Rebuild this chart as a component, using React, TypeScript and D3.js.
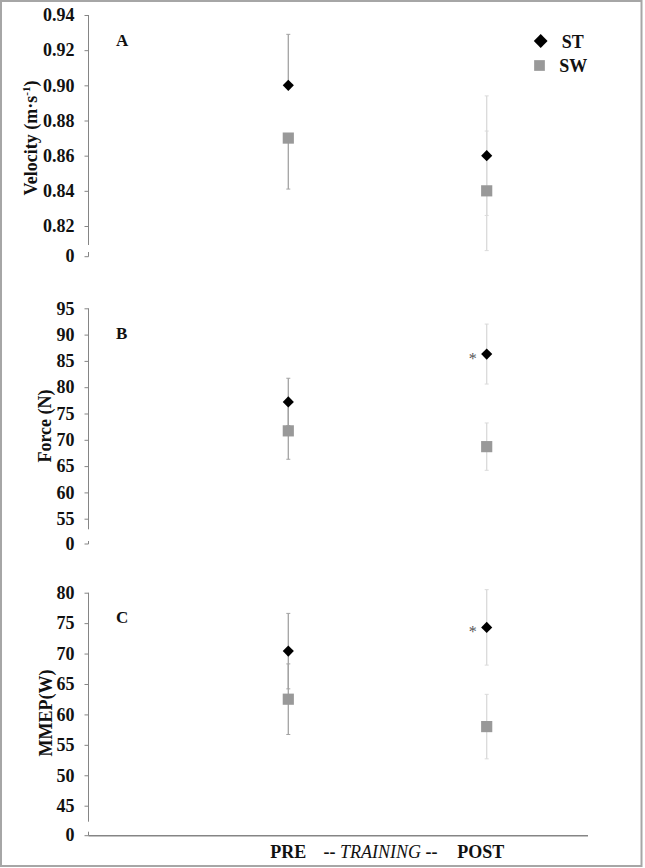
import { useEffect, useRef } from 'react';
import * as d3 from 'd3';

const categories = ['PRE', 'POST'];
const seriesNames = ['ST', 'SW'];

// Panel A - velocity (m·s-1)
const velocityTicks = [0.82, 0.84, 0.86, 0.88, 0.9, 0.92, 0.94];
const velocityST = [0.9, 0.86];
const velocitySW = [0.87, 0.84];
const velocitySTErrUp = [0.029, 0.034];
const velocitySTErrDown = [0, 0.034];
const velocitySWErrUp = [0, 0.034];
const velocitySWErrDown = [0.029, 0.034];

// Panel B - force (N)
const forceTicks = [55, 60, 65, 70, 75, 80, 85, 90, 95];
const forceST = [77.2, 86.3];
const forceSW = [71.7, 68.7];
const forceSTErr = [4.5, 5.7];
const forceSWErr = [5.4, 4.5];
const forceSignificant = [false, true];

// Panel C - MMEP (W)
const mmepTicks = [45, 50, 55, 60, 65, 70, 75, 80];
const mmepST = [70.4, 74.3];
const mmepSW = [62.5, 58.0];
const mmepSTErr = [6.2, 6.2];
const mmepSWErr = [5.8, 5.3];
const mmepSignificant = [false, true];

const FONT = '"Liberation Serif", "Times New Roman", Times, serif';

function App() {
  const svgRef = useRef<SVGSVGElement | null>(null);

  useEffect(() => {
    const svg = d3.select(svgRef.current);
    svg.selectAll('*').remove();

    const width = 645;
    const height = 868;
    const axisX = 88.5;
    const axisColor = '#858585';
    const errColors = ['#a3a3a3', '#dadada'];

    svg.attr('width', width).attr('height', height);

    // outer frame
    svg.append('rect')
      .attr('x', 1).attr('y', 1)
      .attr('width', 640.5).attr('height', 865)
      .attr('fill', 'white')
      .attr('stroke', '#a6a6a6')
      .attr('stroke-width', 2);

    const x = d3.scalePoint<string>()
      .domain(categories)
      .range([288.3, 486.7]);

    const panels = [
      {
        letter: 'A', title: 'Velocity (m·s', sup: '-1', titleEnd: ')',
        ticks: velocityTicks, fmt: d3.format('.2f'),
        top: 15, bottom: 226, lineEnd: 245, segStart: 252, zeroY: 256.7,
        titleX: 37, titleY: 138,
        st: velocityST, sw: velocitySW,
        stUp: velocitySTErrUp, stDown: velocitySTErrDown,
        swUp: velocitySWErrUp, swDown: velocitySWErrDown,
        sig: [false, false], baseline: false,
      },
      {
        letter: 'B', title: 'Force (N)', sup: '', titleEnd: '',
        ticks: forceTicks, fmt: d3.format('d'),
        top: 308.3, bottom: 518.7, lineEnd: 529.3, segStart: 541, zeroY: 544,
        titleX: 50.5, titleY: 426,
        st: forceST, sw: forceSW,
        stUp: forceSTErr, stDown: forceSTErr,
        swUp: forceSWErr, swDown: forceSWErr,
        sig: forceSignificant, baseline: false,
      },
      {
        letter: 'C', title: 'MMEP(W)', sup: '', titleEnd: '',
        ticks: mmepTicks, fmt: d3.format('d'),
        top: 592.7, bottom: 805.7, lineEnd: 821.7, segStart: 831.7, zeroY: 835.7,
        titleX: 52, titleY: 713,
        st: mmepST, sw: mmepSW,
        stUp: mmepSTErr, stDown: mmepSTErr,
        swUp: mmepSWErr, swDown: mmepSWErr,
        sig: mmepSignificant, baseline: true,
      },
    ];

    const diamond = d3.symbol().type(d3.symbolSquare).size(62);
    const square = d3.symbol().type(d3.symbolSquare).size(125);

    panels.forEach(p => {
      const y = d3.scaleLinear()
        .domain([p.ticks[0], p.ticks[p.ticks.length - 1]])
        .range([p.bottom, p.top]);

      const g = svg.append('g')
        .attr('transform', `translate(${axisX},0)`)
        .call(d3.axisLeft(y).tickValues(p.ticks).tickFormat(d => p.fmt(d as number)).tickSize(4).tickPadding(10));
      g.select('.domain').remove();
      g.selectAll('.tick line').attr('stroke', axisColor);
      g.selectAll('.tick text')
        .attr('fill', '#111')
        .attr('font-family', FONT)
        .attr('font-weight', 'bold')
        .attr('font-size', 18);

      // broken axis line
      svg.append('line')
        .attr('x1', axisX).attr('x2', axisX)
        .attr('y1', y(p.ticks[p.ticks.length - 1])).attr('y2', p.lineEnd)
        .attr('stroke', axisColor);
      svg.append('line')
        .attr('x1', axisX).attr('x2', axisX)
        .attr('y1', p.segStart).attr('y2', p.zeroY)
        .attr('stroke', axisColor);
      svg.append('line')
        .attr('x1', axisX - 4).attr('x2', axisX)
        .attr('y1', p.zeroY).attr('y2', p.zeroY)
        .attr('stroke', axisColor);
      svg.append('text')
        .attr('x', axisX - 14).attr('y', p.zeroY)
        .attr('dy', '0.32em')
        .attr('text-anchor', 'end')
        .attr('font-family', FONT).attr('font-weight', 'bold').attr('font-size', 18)
        .attr('fill', '#111')
        .text('0');

      if (p.baseline) {
        svg.append('line')
          .attr('x1', axisX).attr('x2', 588)
          .attr('y1', p.zeroY).attr('y2', p.zeroY)
          .attr('stroke', axisColor)
          .attr('stroke-width', 1.5);
      }

      // axis title
      const t = svg.append('text')
        .attr('transform', `translate(${p.titleX},${p.titleY}) rotate(-90)`)
        .attr('text-anchor', 'middle')
        .attr('font-family', FONT).attr('font-weight', 'bold').attr('font-size', 18)
        .attr('fill', '#111');
      t.append('tspan').text(p.title);
      if (p.sup) {
        t.append('tspan').attr('dy', -7).attr('font-size', 11).text(p.sup);
        t.append('tspan').attr('dy', 7).text(p.titleEnd);
      }

      // panel letter
      svg.append('text')
        .attr('x', 116).attr('y', p.top + 30.5)
        .attr('font-family', FONT).attr('font-weight', 'bold').attr('font-size', 17)
        .attr('fill', '#111')
        .text(p.letter);

      // error bars
      const bars = [
        { vals: p.st, up: p.stUp, down: p.stDown },
        { vals: p.sw, up: p.swUp, down: p.swDown },
      ];
      bars.forEach(b => {
        categories.forEach((c, i) => {
          const cx = x(c) as number;
          const col = errColors[i];
          const y1 = y(b.vals[i] + b.up[i]);
          const y2 = y(b.vals[i] - b.down[i]);
          svg.append('line')
            .attr('x1', cx).attr('x2', cx).attr('y1', y1).attr('y2', y2)
            .attr('stroke', col).attr('stroke-width', 1.3);
          [y1, y2].forEach((yy, k) => {
            if ((k === 0 ? b.up[i] : b.down[i]) > 0) {
              svg.append('line')
                .attr('x1', cx - 2).attr('x2', cx + 2).attr('y1', yy).attr('y2', yy)
                .attr('stroke', col).attr('stroke-width', 1);
            }
          });
        });
      });

      // markers
      categories.forEach((c, i) => {
        const cx = x(c) as number;
        svg.append('path')
          .attr('d', square()!)
          .attr('transform', `translate(${cx},${y(p.sw[i])})`)
          .attr('fill', '#999999');
        svg.append('path')
          .attr('d', diamond()!)
          .attr('transform', `translate(${cx},${y(p.st[i])}) rotate(45)`)
          .attr('fill', '#000');
        if (p.sig[i]) {
          svg.append('text')
            .attr('x', cx - 14).attr('y', y(p.st[i]) + 10)
            .attr('text-anchor', 'middle')
            .attr('font-family', FONT).attr('font-size', 16)
            .attr('fill', '#555')
            .text('*');
        }
      });
    });

    // legend
    const legend = svg.append('g');
    seriesNames.forEach((name, i) => {
      const ly = 41 + i * 24.5;
      legend.append('path')
        .attr('d', i === 0
          ? d3.symbol().type(d3.symbolSquare).size(95)()!
          : d3.symbol().type(d3.symbolSquare).size(115)()!)
        .attr('transform', i === 0 ? `translate(540.7,${ly}) rotate(45)` : `translate(539.5,${ly})`)
        .attr('fill', i === 0 ? '#000' : '#999999');
      legend.append('text')
        .attr('x', i === 0 ? 561.7 : 559.3).attr('y', ly + 6.5)
        .attr('font-family', FONT).attr('font-weight', 'bold').attr('font-size', 18)
        .attr('fill', '#111')
        .text(name);
    });

    // x-axis label
    const labelY = 858;
    const mid = ((x('PRE') as number) + (x('POST') as number)) / 2;
    svg.append('text')
      .attr('x', x('PRE') as number).attr('y', labelY)
      .attr('text-anchor', 'middle')
      .attr('font-family', FONT).attr('font-weight', 'bold').attr('font-size', 18)
      .attr('fill', '#111')
      .text('PRE');
    const m = svg.append('text')
      .attr('x', mid - 7).attr('y', labelY)
      .attr('text-anchor', 'middle')
      .attr('font-family', FONT).attr('font-size', 18)
      .attr('fill', '#111')
      .style('white-space', 'pre');
    m.append('tspan').attr('font-family', FONT).attr('font-weight', 'bold').text('-- ');
    m.append('tspan').attr('font-family', FONT).attr('font-style', 'italic').text('TRAINING');
    m.append('tspan').attr('font-family', FONT).attr('font-weight', 'bold').text(' --');
    svg.append('text')
      .attr('x', (x('POST') as number) - 6).attr('y', labelY)
      .attr('text-anchor', 'middle')
      .attr('font-family', FONT).attr('font-weight', 'bold').attr('font-size', 18)
      .attr('fill', '#111')
      .text('POST');
  }, []);

  return (
    <div style={{ position: 'absolute', left: 0, top: 0 }}>
      <svg ref={svgRef} style={{ display: 'block' }}></svg>
    </div>
  );
}

export default App;
